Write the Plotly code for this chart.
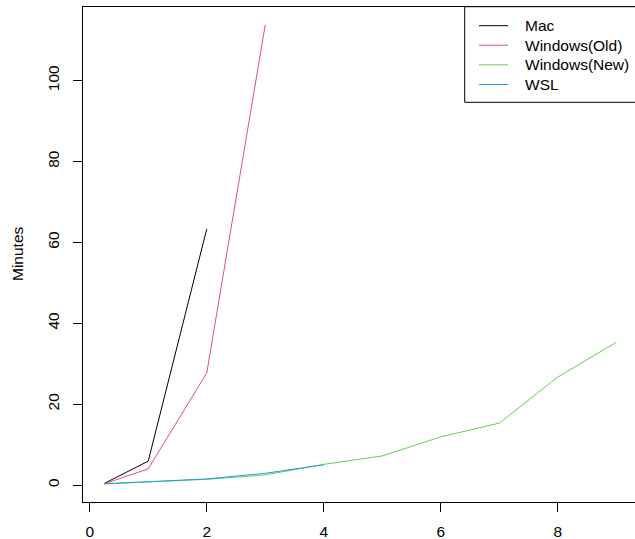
import plotly.graph_objects as go

# ---- data ----
series_names = ["Mac", "Windows(Old)", "Windows(New)", "WSL"]
x_mac = [0.25, 1, 2]
y_mac = [0.4, 5.9, 63.3]
x_old = [0.25, 1, 2, 3]
y_old = [0.3, 4.0, 27.7, 113.8]
x_new = [0.25, 1, 2, 3, 4, 5, 6, 7, 8, 9]
y_new = [0.3, 0.8, 1.4, 2.5, 5.1, 7.2, 11.9, 15.3, 26.7, 35.3]
x_wsl = [0.25, 1, 2, 3, 4]
y_wsl = [0.3, 0.8, 1.5, 2.9, 5.0]
x_ticks = [0, 2, 4, 6, 8]
y_ticks = [0, 20, 40, 60, 80, 100]
y_title = "Minutes"

colors = ["#000000", "#DF536B", "#61D04F", "#2297E6"]
FONT = "Liberation Sans, Arial, Helvetica, sans-serif"
FS = 15.5

W, H = 635, 539
ML, MR, MT, MB = 83, 0, 7, 37
PW, PH = W - ML - MR, H - MT - MB


def px_x(px):
    return (px - ML) / PW


def px_y(py):
    return (H - MB - py) / PH


fig = go.Figure()
for xs, ys, name, c in zip([x_mac, x_old, x_new, x_wsl],
                           [y_mac, y_old, y_new, y_wsl],
                           series_names, colors):
    fig.add_trace(go.Scatter(x=xs, y=ys, mode="lines", name=name,
                             line=dict(color=c, width=1), showlegend=False))

shapes = []
annotations = []
# legend box (right edge runs off the canvas)
shapes.append(dict(type="rect", xref="paper", yref="paper",
                   x0=px_x(464.7), x1=px_x(650), y0=px_y(102.3), y1=px_y(6.7),
                   line=dict(color="#000000", width=1), fillcolor="white", layer="above"))
row_y = [25.7, 45.2, 64.8, 84.5]
for name, c, ry in zip(series_names, colors, row_y):
    shapes.append(dict(type="line", xref="paper", yref="paper",
                       x0=px_x(479), x1=px_x(508), y0=px_y(ry), y1=px_y(ry),
                       line=dict(color=c, width=1), layer="above"))
    annotations.append(dict(xref="paper", yref="paper", x=px_x(522.5), y=px_y(ry),
                            text=name, showarrow=False, xanchor="left", yanchor="middle",
                            font=dict(family=FONT, size=FS, color="#000000")))
annotations.append(dict(xref="paper", yref="paper", x=px_x(17), y=px_y(254),
                        text=y_title, showarrow=False, textangle=-90,
                        xanchor="center", yanchor="middle",
                        font=dict(family=FONT, size=FS, color="#000000")))

fig.update_layout(
    width=W, height=H,
    margin=dict(l=ML, r=MR, t=MT, b=MB, pad=0),
    paper_bgcolor="white", plot_bgcolor="white",
    font=dict(family=FONT, size=FS, color="#000000"),
    shapes=shapes, annotations=annotations,
    showlegend=False,
)
fig.update_xaxes(range=[-0.115, 9.32], tickvals=x_ticks, ticktext=[str(v) for v in x_ticks],
                 showgrid=False, zeroline=False, showline=True, mirror=True,
                 linecolor="#000000", linewidth=1, ticks="outside", ticklen=9,
                 tickcolor="#000000", tickwidth=1, ticklabelstandoff=6,
                 tickfont=dict(family=FONT, size=FS, color="#000000"))
fig.update_yaxes(range=[-4.2, 118.2], tickvals=y_ticks, ticktext=[str(v) for v in y_ticks],
                 showgrid=False, zeroline=False, showline=True, mirror=False,
                 linecolor="#000000", linewidth=1, ticks="outside", ticklen=9,
                 tickcolor="#000000", tickwidth=1, tickangle=-90, ticklabelstandoff=8,
                 tickfont=dict(family=FONT, size=FS, color="#000000"))

fig.write_html("out.html", config={"displayModeBar": False},
               post_script="document.body.style.margin='0';document.body.style.overflow='hidden';")
